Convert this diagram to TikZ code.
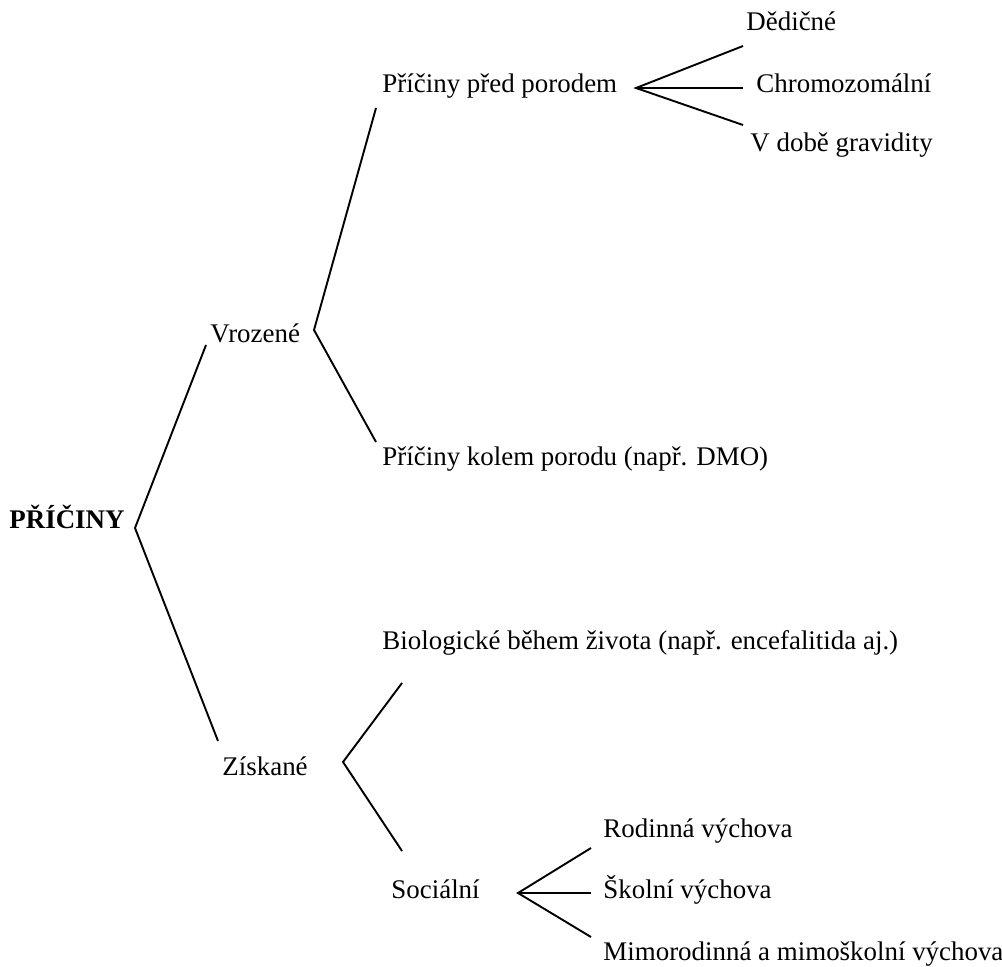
\documentclass[tikz,border=0pt]{standalone}
\usepackage{fontspec}
\setmainfont{Liberation Serif}
\usetikzlibrary{calc}

\begin{document}
\begin{tikzpicture}[x=0.01567cm, y=-0.01567cm]
		\useasboundingbox (0,0) rectangle (1002,966);
		\begin{scope}[every node/.style={inner sep=0, anchor=base west, font=\fontsize{12}{14}\selectfont}]
		\node[font=\fontsize{12}{14}\selectfont\bfseries] (pric) at (9,528) {PŘÍČINY};
		\node (vroz) at (210,342) {Vrozené};
		\node (zisk) at (222,775) {Získané};
		
		\node (pred) at (382,93) {Příčiny před porodem};
		\node (kolem) at (382,465) {Příčiny kolem porodu (např. DMO)};
		\node (bio) at (382,649) {Biologické během života (např. encefalitida aj.)};
		\node (soc) at (391,898) {Sociální};
		
		\node (ded) at (746,31) {Dědičné};
		\node (chrom) at (756,93) {Chromozomální};
		\node (grav) at (750,152) {V době gravidity};
		
		\node (rod) at (603,837) {Rodinná výchova};
		\node (skol) at (603,898) {Školní výchova};
		\node (mimo) at (603,960) {Mimorodinná a mimoškolní výchova};
		\end{scope}
		
		% vertices and line ends
		\coordinate (v0) at (135,528);
		\coordinate (v0a) at (206,345);
		\coordinate (v0b) at (218,741);
		\coordinate (v1) at (314,330);
		\coordinate (v1a) at (376,108);
		\coordinate (v1b) at (376,442);
		\coordinate (v2) at (343,762);
		\coordinate (v2a) at (402,683);
		\coordinate (v2b) at (402,851);
		\coordinate (v3) at (636,88);
		\coordinate (v3a) at (743,46);
		\coordinate (v3b) at (743,88);
		\coordinate (v3c) at (743,125);
		\coordinate (v4) at (518,893);
		\coordinate (v4a) at (591,848);
		\coordinate (v4b) at (591,893);
		\coordinate (v4c) at (591,937);
		
		\begin{scope}[line width=0.85pt]
		\draw[-] (v0a) -- (v0) -- (v0b);
		\draw[-] (v1a) -- (v1) -- (v1b);
		\draw[-] (v2a) -- (v2) -- (v2b);
		\draw[-] (v3a) -- (v3) -- (v3c);
		\draw[-] (v3) -- (v3b);
		\draw[-] (v4a) -- (v4) -- (v4c);
		\draw[-] (v4) -- (v4b);
		\end{scope}
\end{tikzpicture}
\end{document}
